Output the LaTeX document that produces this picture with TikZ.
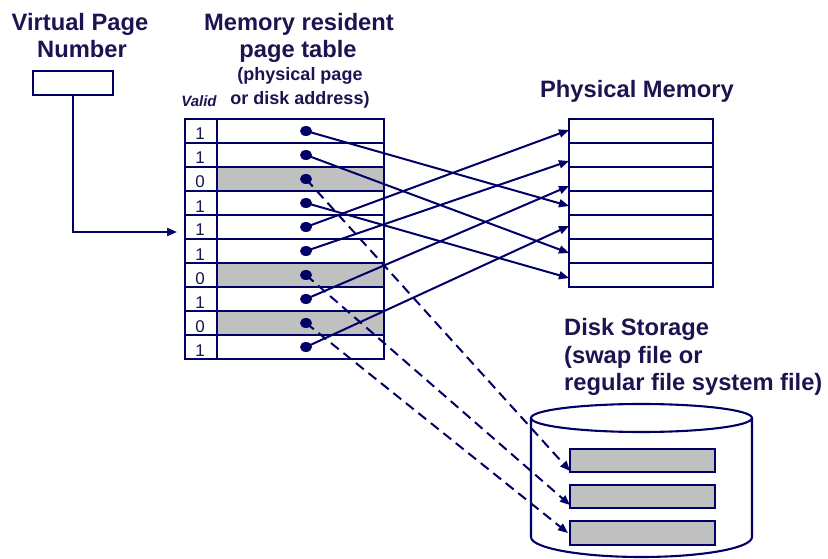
\documentclass[tikz,border=0pt]{standalone}
\usepackage{fontspec}
\setmainfont{Liberation Sans}
\usetikzlibrary{arrows.meta,shapes.geometric}
\definecolor{navy}{RGB}{0,0,102}
\definecolor{txt}{RGB}{28,20,80}
\definecolor{shade}{RGB}{192,192,192}
\begin{document}
\begin{tikzpicture}[x=1pt,y=-1pt,
  head/.style={font=\fontsize{23.7}{27}\selectfont\bfseries, text=txt, anchor=base, inner sep=0},
  headw/.style={head, anchor=base west},
  sub/.style={font=\fontsize{18}{22}\selectfont\bfseries, text=txt, anchor=base, inner sep=0},
  validlbl/.style={font=\fontsize{15}{17}\selectfont\bfseries\itshape, text=txt, anchor=base, inner sep=0},
  digit/.style={font=\fontsize{17}{20}\selectfont, text=txt, anchor=base, inner sep=0},
  frame/.style={draw=navy, line width=2.1pt},
  cell/.style={frame, minimum height=24pt, inner sep=0},
  cell0/.style={fill=shade},
  cell1/.style={fill=white},
  dot/.style={ellipse, fill=navy, minimum width=12pt, minimum height=10pt, inner sep=0},
  link/.style={navy, line width=2pt, -{Triangle[length=10pt,width=8pt]}},
  dlink/.style={link, dash pattern=on 10pt off 6pt}
]
\useasboundingbox (0,0) rectangle (828,559);

% headings
\node[head] (h1a) at (80,31) {Virtual Page};
\node[head] (h1b) at (82,58) {Number};
\node[head] (h2a) at (299,31) {Memory resident};
\node[head] (h2b) at (298,58) {page table};
\node[sub] (h2c) at (300,81) {(physical page};
\node[sub] (h2d) at (300,105) {or disk address)};
\node[validlbl] (hv) at (199,107) {Valid};
\node[head] (h3) at (637,98) {Physical Memory};
\node[headw] (h4a) at (564,335) {Disk Storage};
\node[headw] (h4b) at (564,363) {(swap file or};
\node[headw] (h4c) at (564,390) {regular file system file)};

% virtual page number box
\node[frame, minimum width=80pt, minimum height=24pt, inner sep=0] (vpn) at (73,83) {};
\coordinate (pti) at (177,232);
\draw[link] (vpn.south) |- (pti);

% page table
\foreach \v [count=\i] in {1,1,0,1,1,1,0,1,0,1} {
  \node[cell, cell1, minimum width=32pt] (v\i) at (201,{131+24*(\i-1)}) {};
  \node[cell, cell\v, minimum width=167pt] (e\i) at (300.5,{131+24*(\i-1)}) {};
  \node[digit] (t\i) at (200,{140+24*(\i-1)}) {\v};
}

% physical memory
\foreach \i in {1,...,7} {
  \node[cell, fill=white, minimum width=144pt] (p\i) at (641,{131+24*(\i-1)}) {};
}
\coordinate (m1) at (569,130);
\coordinate (m2) at (569,161);
\coordinate (m3) at (569,186);
\coordinate (m4) at (569,206);
\coordinate (m5) at (569,226);
\coordinate (m6) at (569,253);
\coordinate (m7) at (569,278);

% disk
\draw[frame, fill=white] (531,418) -- (531,537)
  arc[start angle=180, end angle=0, x radius=110.5, y radius=20] -- (752,418);
\draw[frame] (641.5,418) ellipse[x radius=110.5, y radius=14];
\node[frame, fill=shade, minimum width=145pt, minimum height=23pt, inner sep=0] (b1) at (642.5,460.5) {};
\node[frame, fill=shade, minimum width=145pt, minimum height=23pt, inner sep=0] (b2) at (642.5,496.5) {};
\node[frame, fill=shade, minimum width=145pt, minimum height=24pt, inner sep=0] (b3) at (642.5,533) {};
\coordinate (k1) at (570,471);
\coordinate (k2) at (570,505);
\coordinate (k3) at (568,533);

% dots
\foreach \i in {1,...,10} {
  \node[dot] (d\i) at (306,{131+24*(\i-1)}) {};
}

% mappings
\draw[link] (d1.center) -- (m4);
\draw[link] (d2.center) -- (m6);
\draw[link] (d4.center) -- (m7);
\draw[link] (d5.center) -- (m1);
\draw[link] (d6.center) -- (m2);
\draw[link] (d8.center) -- (m3);
\draw[link] (d10.center) -- (m5);
\draw[dlink] (d3.center) -- (k1);
\draw[dlink] (d7.center) -- (k2);
\draw[dlink] (d9.center) -- (k3);
\end{tikzpicture}
\end{document}
